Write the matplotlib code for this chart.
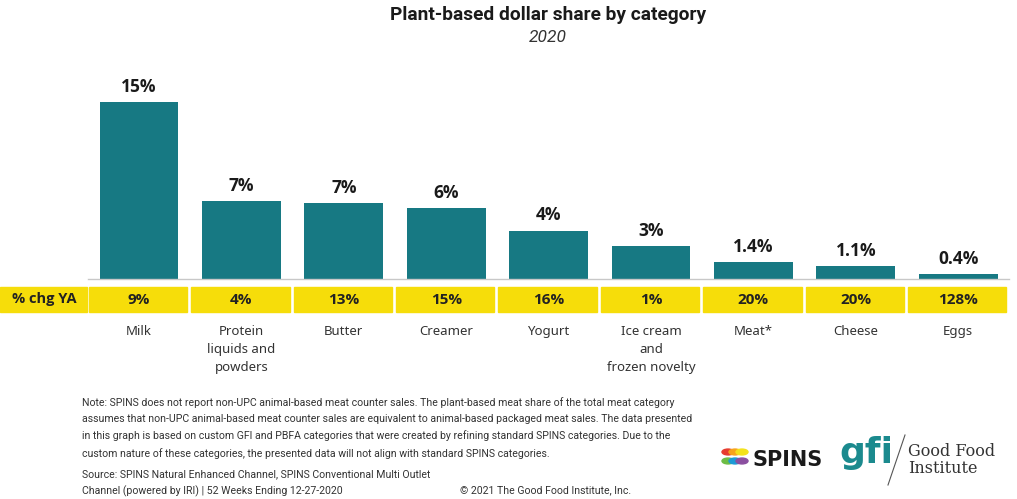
import matplotlib.pyplot as plt
from matplotlib.patches import Rectangle, Circle
from matplotlib.transforms import blended_transform_factory

categories = ["Milk", "Protein\nliquids and\npowders", "Butter", "Creamer", "Yogurt",
              "Ice cream\nand\nfrozen novelty", "Meat*", "Cheese", "Eggs"]
share = [15.0, 6.6, 6.4, 6.0, 4.1, 2.8, 1.4, 1.1, 0.4]
share_labels = ["15%", "7%", "7%", "6%", "4%", "3%", "1.4%", "1.1%", "0.4%"]
chg_ya = ["9%", "4%", "13%", "15%", "16%", "1%", "20%", "20%", "128%"]

teal = "#177983"
yellow = "#F6DD0A"
W, H = 1017, 499

fig = plt.figure(figsize=(W / 100, H / 100), dpi=100)
# axes spans full width; bottom at the baseline (y=279 px from top)
ax = fig.add_axes([0, 1 - 279 / H, 1, (279 - 60) / H])
step = 102.4
x0 = 139
ax.set_xlim(-x0 / step, (W - x0) / step)
ax.set_ylim(0, (279 - 60) / 11.8)
ax.axis("off")

xs = list(range(len(share)))
ax.bar(xs, share, width=0.77, color=teal)
ax.plot([-0.5, 8.5], [0, 0], color="#c8c8c8", lw=1, clip_on=False)

for x, v, lab in zip(xs, share, share_labels):
    ax.annotate(lab, (x, v), xytext=(0, 4.5), textcoords="offset points",
                ha="center", va="bottom", fontsize=12.5, fontweight="bold",
                family="Open Sans", color="#1a1a1a")

tr = blended_transform_factory(ax.transData, fig.transFigure)
band_top = 1 - 287 / H
band_h = 25 / H
# label cell
fig.patches.append(Rectangle((0, band_top - band_h), 87 / W, band_h,
                             transform=fig.transFigure, color=yellow, zorder=0))
fig.text(44 / W, band_top - band_h / 2, "% chg YA", ha="center", va="center",
         fontsize=10.5, fontweight="bold", family="Open Sans", color="#222222")
for x, c, cat in zip(xs, chg_ya, categories):
    fig.patches.append(Rectangle((x - 0.49, band_top - band_h), 0.96, band_h,
                                 transform=tr, color=yellow, zorder=0))
    fig.text(x, band_top - band_h / 2, c, transform=tr, ha="center", va="center",
             fontsize=11, fontweight="bold", family="Open Sans", color="#222222")
    fig.text(x, 1 - 325 / H, cat, transform=tr, ha="center", va="top",
             fontsize=9.5, family="Noto Sans", color="#333333", linespacing=1.5)

fig.text(548 / W, 1 - 15 / H, "Plant-based dollar share by category", ha="center",
         va="center", fontsize=13.8, fontweight="bold", family="Roboto",
         color="#1a1a1a")
fig.text(548 / W, 1 - 37 / H, "2020", ha="center", va="center", fontsize=12.5,
         style="italic", family="Roboto", color="#333333")

note = ("Note: SPINS does not report non-UPC animal-based meat counter sales. The plant-based meat share of the total meat category\n"
        "assumes that non-UPC animal-based meat counter sales are equivalent to animal-based packaged meat sales. The data presented\n"
        "in this graph is based on custom GFI and PBFA categories that were created by refining standard SPINS categories. Due to the\n"
        "custom nature of these categories, the presented data will not align with standard SPINS categories.")
fig.text(82 / W, 1 - 397 / H, note, ha="left", va="top", fontsize=7.6,
         family="Roboto", color="#333333", linespacing=1.75)
fig.text(82 / W, 1 - 469 / H,
         "Source: SPINS Natural Enhanced Channel, SPINS Conventional Multi Outlet\n"
         "Channel (powered by IRI) | 52 Weeks Ending 12-27-2020",
         ha="left", va="top", fontsize=7.6, family="Roboto",
         color="#333333", linespacing=1.75)
fig.text(460 / W, 1 - 490 / H, "\u00a9 2021 The Good Food Institute, Inc.", ha="left",
         va="center", fontsize=7.6, family="Roboto", color="#333333")

# logos (approximate)
spins_colors = ["#e63b2e", "#f7a21b", "#f3e21b", "#6dbd45", "#1c9ad6", "#8b4fa0"]
for i, c in enumerate(spins_colors):
    fig.patches.append(Circle(((728 + (i % 3) * 7) / W, 1 - (452 + (i // 3) * 9) / H),
                              6 / W, transform=fig.transFigure, color=c, zorder=1))
fig.text(752 / W, 1 - 460 / H, "SPINS", ha="left", va="center", fontsize=15,
         fontweight="heavy", family="DejaVu Sans", color="#1a1a1a")
fig.text(866 / W, 1 - 453 / H, "gfi", ha="center", va="center", fontsize=26,
         fontweight="bold", family="DejaVu Sans", color="#1b8a8e")
fig.add_artist(plt.Line2D([905 / W, 888 / W], [1 - 435 / H, 1 - 485 / H],
                          color="#555555", lw=0.8))
fig.text(908 / W, 1 - 460 / H, "Good Food\nInstitute", ha="left", va="center",
         fontsize=11.5, family="DejaVu Serif", color="#333333", linespacing=1.0)

fig.savefig("out.png", dpi=100, facecolor="white")
